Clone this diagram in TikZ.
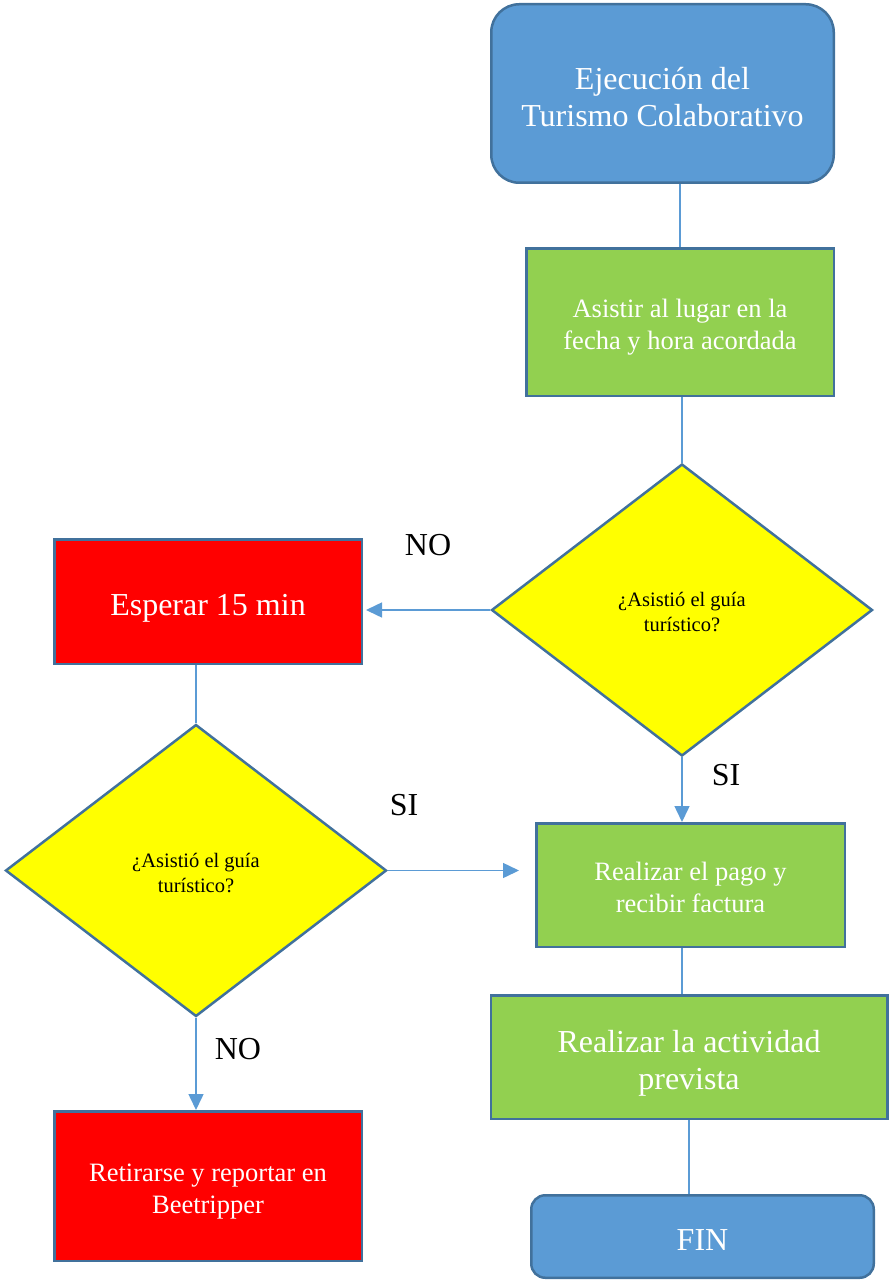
\documentclass[tikz,border=0pt]{standalone}
\usepackage{fontspec}
\setmainfont{Liberation Serif}
\usetikzlibrary{arrows.meta,shapes.geometric,positioning,calc}

\definecolor{fillblue}{HTML}{5B9BD5}
\definecolor{edgeblue}{HTML}{41719C}
\definecolor{fillgreen}{HTML}{92D050}
\definecolor{fillred}{HTML}{FF0000}
\definecolor{fillyellow}{HTML}{FFFF00}

% struts so the text sits on full line boxes
\newcommand{\headstrut}{\rule{0pt}{1.1em}}
\newcommand{\footstrut}{\rule[-0.2em]{0pt}{0.2em}}

\begin{document}
\begin{tikzpicture}[
    x=1pt, y=-1pt, % one unit per pixel, y going down
    bigtext/.style={font=\fontsize{32}{37}\selectfont},
    midtext/.style={font=\fontsize{26.5}{32}\selectfont},
    basebox/.style={
        draw=edgeblue,
        line width=2.5pt,
        inner sep=0pt,
        align=center,
        text=white
    },
    startbox/.style={
        basebox,
        bigtext,
        rounded corners=28pt,
        fill=fillblue
    },
    stepbox/.style={
        basebox,
        midtext,
        fill=fillgreen
    },
    waitbox/.style={
        basebox,
        midtext,
        fill=fillred
    },
    decision/.style={
        diamond,
        draw=edgeblue,
        fill=fillyellow,
        line width=2.5pt,
        inner sep=0pt,
        minimum width=381pt,
        minimum height=292pt,
        align=center,
        font=\fontsize{20.5}{25}\selectfont
    },
    answer/.style={bigtext},
    link/.style={draw=fillblue, line width=1.5pt},
    arrow/.style={link, -{Triangle[length=16pt,width=15pt]}}
]
\useasboundingbox (0,0) rectangle (889,1281);

% --- NODES ---
\node[startbox, minimum width=342.5pt, minimum height=178.5pt] (inicio) at (662.5,93.5)
{\headstrut Ejecución del\\Turismo Colaborativo\footstrut};

\node[stepbox, minimum width=307.5pt, minimum height=147.5pt] (asistir) at (680,322)
{\headstrut Asistir al lugar en la\\fecha y hora acordada\footstrut};

\node[decision] (guia) at (682,610)
{\headstrut ¿Asistió el guía\\turístico?\footstrut};

\node[waitbox, bigtext, minimum width=307.5pt, minimum height=124.5pt] (esperar) at (208,601.5)
{\headstrut Esperar 15 min\footstrut};

\node[decision] (guiados) at (196,870.5)
{\headstrut ¿Asistió el guía\\turístico?\footstrut};

\node[stepbox, minimum width=308.5pt, minimum height=123.5pt] (pago) at (690.5,885)
{\headstrut Realizar el pago y\\recibir factura\footstrut};

\node[stepbox, bigtext, minimum width=396.5pt, minimum height=123.5pt] (actividad) at (689,1057)
{\headstrut Realizar la actividad\\prevista\footstrut};

\node[startbox, rounded corners=14pt, minimum width=342.5pt, minimum height=82.5pt] (fin) at (702.5,1236.5)
{\headstrut FIN\footstrut};

\node[waitbox, minimum width=307.5pt, minimum height=149.5pt] (retirarse) at (208,1186)
{\headstrut Retirarse y reportar en\\Beetripper\footstrut};

% answers on the branches
\node[answer] (guiaNo) at (428,545) {NO};
\node[answer] (guiaSi) at (726,775) {SI};
\node[answer] (guiadosSi) at (404,805) {SI};
\node[answer] (guiadosNo) at (238,1049) {NO};

% --- CONNECTIONS ---
\draw[link] (asistir.north |- inicio.south) -- (asistir.north);
\draw[link] (guia.north |- asistir.south) -- (guia.north);

\draw[arrow] (guia.west) -- ([xshift=3pt]guia.west -| esperar.east);
\draw[arrow] (guia.south) -- (guia.south |- pago.north);

\draw[link] (guia.south |- pago.south) -- (guia.south |- actividad.north);
\draw[link] (actividad.south) -- (actividad.south |- fin.north);

\draw[link] (guiados.north |- esperar.south) -- (guiados.north);
\draw[arrow] (guiados.east) -- ([xshift=-16pt]guiados.east -| pago.west);
\draw[arrow] (guiados.south) -- (guiados.south |- retirarse.north);

\end{tikzpicture}
\end{document}
